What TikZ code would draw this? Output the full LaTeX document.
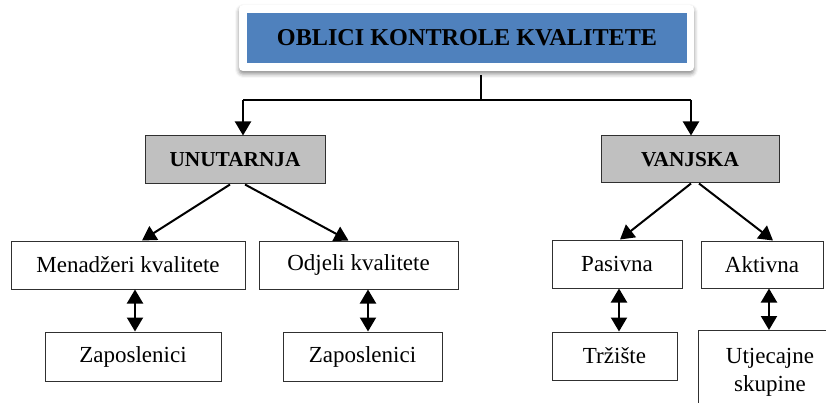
\documentclass[tikz,border=0pt]{standalone}
\usepackage{fontspec}
\setmainfont{Liberation Serif}
\usetikzlibrary{arrows.meta,shadows,shadows.blur}
\definecolor{titleblue}{HTML}{4F81BD}
\definecolor{boxgray}{HTML}{C0C0C0}
\definecolor{edge}{HTML}{303030}
\tikzset{
  plainbox/.style={draw=edge,line width=1pt,fill=white,inner sep=0pt,align=center,font=\fontsize{23}{26}\selectfont},
  graybox/.style={draw=edge,line width=1pt,fill=boxgray,inner sep=0pt,align=center,font=\bfseries\fontsize{21.3}{24}\selectfont},
  conn/.style={line width=2pt,black},
  arr/.style={conn,-{Triangle[width=16pt,length=14pt]}},
  darr/.style={conn,{Triangle[width=16pt,length=14pt]}-{Triangle[width=16pt,length=14pt]}}
}
\begin{document}
\begin{tikzpicture}[x=1pt,y=-1pt]
\useasboundingbox (0,0) rectangle (826,403);
% title
\node[fill=white,rounded corners=4pt,minimum width=455pt,minimum height=66pt,inner sep=0pt,
      blur shadow={shadow xshift=0pt,shadow yshift=-3pt,shadow blur radius=4pt,shadow opacity=45}] (frame) at (466.5,38) {};
\node[fill=titleblue,minimum width=440pt,minimum height=50pt,inner sep=0pt,
      font=\bfseries\fontsize{24.2}{27}\selectfont] (title) at (467,38) {OBLICI KONTROLE KVALITETE};
% second level
\node[graybox,minimum width=180pt,minimum height=48pt] (un) at (235,160) {UNUTARNJA};
\node[graybox,minimum width=178pt,minimum height=47pt] (va) at (690,159.5) {VANJSKA};
% third level
\node[plainbox,minimum width=234pt,minimum height=48pt] (men) at (128,265) {Menadžeri kvalitete};
\node[plainbox,minimum width=199pt,minimum height=48pt] (odj) at (358.5,265) {Odjeli kvalitete};
\node[plainbox,minimum width=130pt,minimum height=48pt] (pas) at (617,264) {Pasivna};
\node[plainbox,minimum width=122pt,minimum height=47pt] (akt) at (762,264.5) {Aktivna};
% fourth level
\node[plainbox,minimum width=176pt,minimum height=49pt] (zap1) at (133,356.5) {Zaposlenici};
\node[plainbox,minimum width=159pt,minimum height=49pt] (zap2) at (362.5,356.5) {Zaposlenici};
\node[plainbox,minimum width=125pt,minimum height=48pt] (trz) at (614.5,356) {Tržište};
\node[plainbox,minimum width=144pt,minimum height=84pt,anchor=north,font=\fontsize{23}{28}\selectfont] (utj) at (770,330) {Utjecajne\\skupine};
% connectors from title
\coordinate (j) at (481,100);
\coordinate (jl) at (243,100);
\coordinate (jr) at (691,100);
\draw[conn] (j |- 0,75) -- (j);
\draw[conn] (jl) -- (jr);
\draw[arr] (jl) -- (jl |- un.north);
\draw[arr] (jr) -- (jr |- va.north);
% second to third
\draw[arr] ([xshift=-5pt]un.south) -- ([xshift=14pt]men.north);
\draw[arr] ([xshift=10pt]un.south) -- ([xshift=-10pt]odj.north);
\draw[arr] ([xshift=1pt]va.south) -- ([xshift=3pt]pas.north);
\draw[arr] ([xshift=9pt]va.south) -- ([xshift=11pt]akt.north);
% third to fourth
\draw[darr] ([xshift=2pt]zap1.north |- men.south) -- ([xshift=2pt]zap1.north);
\draw[darr] ([xshift=5.5pt]zap2.north |- odj.south) -- ([xshift=5.5pt]zap2.north);
\draw[darr] ([xshift=4.5pt]trz.north |- pas.south) -- ([xshift=4.5pt]trz.north);
\draw[darr] ([xshift=-1pt]utj.north |- akt.south) -- ([xshift=-1pt]utj.north);
\end{tikzpicture}
\end{document}
